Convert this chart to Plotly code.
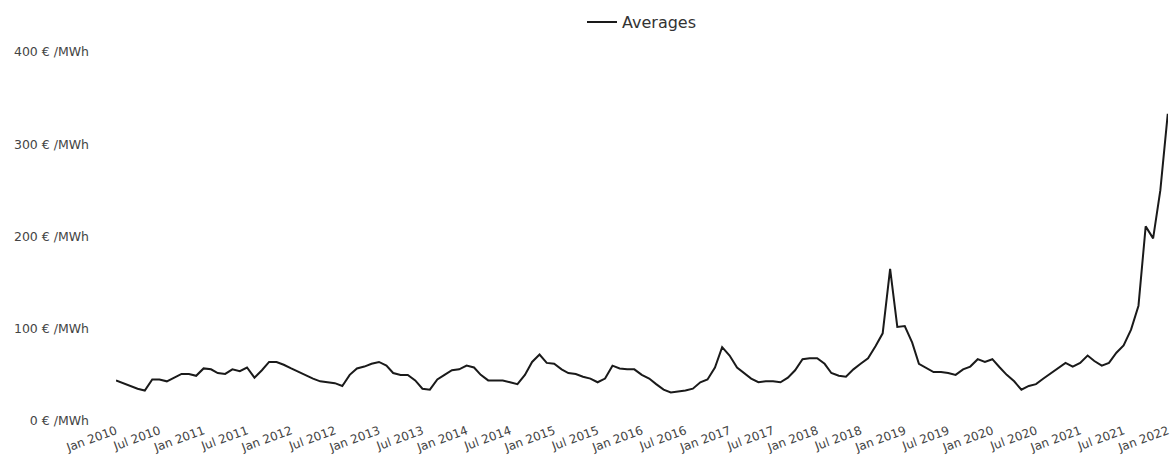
import pandas as pd
import plotly.graph_objects as go

# Monthly average prices (€/MWh)
v2010 = [44, 41, 38, 35, 33, 45, 45, 43, 47, 51, 51, 49]
v2011 = [57, 56, 52, 51, 56, 54, 58, 47, 55, 64, 64, 61]
v2012 = [57, 53, 50, 46, 43, 42, 41, 38, 50, 57, 59, 62]
v2013 = [64, 60, 52, 50, 50, 44, 35, 34, 45, 50, 55, 56]
v2014 = [60, 58, 50, 44, 44, 44, 42, 40, 50, 64, 72, 63]
v2015 = [62, 56, 52, 51, 48, 46, 42, 46, 60, 57, 56, 56]
v2016 = [50, 46, 40, 34, 31, 32, 33, 35, 42, 45, 58, 80]
v2017 = [71, 58, 52, 46, 42, 43, 43, 42, 47, 55, 67, 68]
v2018 = [68, 62, 52, 49, 48, 56, 62, 68, 81, 95, 165, 102]
v2019 = [103, 85, 62, 57, 53, 53, 52, 50, 56, 59, 67, 64]
v2020 = [67, 58, 50, 43, 34, 38, 40, 46, 52, 57, 63, 59]
v2021 = [63, 71, 65, 60, 63, 74, 82, 99, 125, 211, 198, 250]
v2022 = [333]

values = v2010 + v2011 + v2012 + v2013 + v2014 + v2015 + v2016 + v2017 + v2018 + v2019 + v2020 + v2021 + v2022
dates = pd.date_range("2010-01-01", periods=len(values), freq="MS")

y_ticks = [0, 100, 200, 300, 400]
y_labels = [f"{t} € /MWh" for t in y_ticks]
series_name = "Averages"

fig = go.Figure()
fig.add_trace(go.Scatter(
    x=dates, y=values, mode="lines", name=series_name,
    line=dict(color="#1a1a1a", width=2),
))

font_family = "DejaVu Sans, Verdana, sans-serif"
fig.update_layout(
    width=1170, height=468,
    margin=dict(l=116, r=2, t=52, b=47, autoexpand=False),
    paper_bgcolor="white", plot_bgcolor="white",
    font=dict(family=font_family, size=12, color="#444"),
    showlegend=True,
    legend=dict(orientation="h", x=0.5, xanchor="center", y=1.081, yanchor="middle",
                font=dict(size=16, color="#333"), bgcolor="rgba(0,0,0,0)"),
    xaxis=dict(
        type="date", tickformat="%b %Y", dtick="M6", tick0="2010-01-01",
        range=["2010-01-01", "2022-01-02"],
        tickangle=-20, showgrid=False, zeroline=False, showline=False,
        ticks="", ticklabeloverflow="allow", tickfont=dict(size=12, color="#444"),
    ),
    yaxis=dict(
        range=[0, 400], tickvals=y_ticks, ticktext=y_labels,
        showgrid=False, zeroline=False, showline=False, ticks="",
        ticklabelstandoff=26, tickfont=dict(size=12.5, color="#444"),
    ),
)

fig.write_html(
    "out.html",
    config={"displayModeBar": False},
    post_script="document.body.style.margin='0';document.body.style.overflow='hidden';",
)
